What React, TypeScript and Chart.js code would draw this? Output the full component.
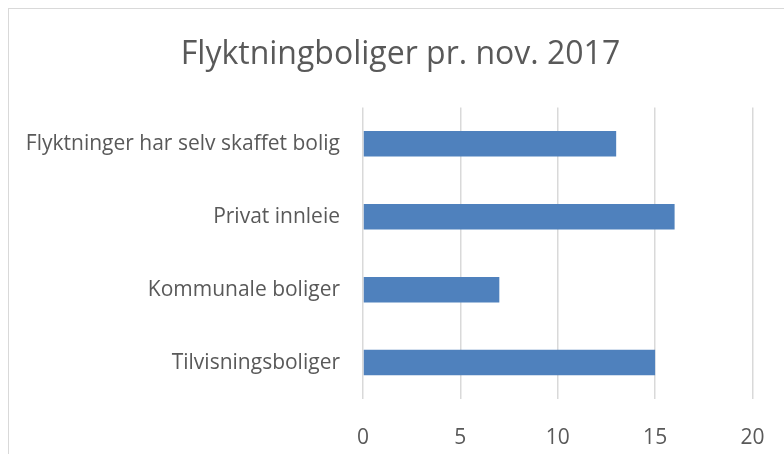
import React, { useEffect, useRef } from "react";
import { Chart, registerables } from "chart.js";

Chart.register(...registerables);

const title = "Flyktningboliger pr. nov. 2017";
const categories = [
  "Flyktninger har selv skaffet bolig",
  "Privat innleie",
  "Kommunale boliger",
  "Tilvisningsboliger",
];
const values = [13, 16, 7, 15];
const xMin = 0;
const xMax = 20;
const xStep = 5;

const FONT = "'Open Sans', 'DejaVu Sans', sans-serif";
const TEXT = "#595959";

export default function App() {
  const ref = useRef<HTMLCanvasElement | null>(null);
  useEffect(() => {
    if (!ref.current) return;
    const chart = new Chart(ref.current, {
      type: "bar",
      data: {
        labels: categories,
        datasets: [
          {
            data: values,
            backgroundColor: "#4F81BD",
            borderWidth: 0,
            categoryPercentage: 1,
            barPercentage: 0.35,
          },
        ],
      },
      options: {
        indexAxis: "y",
        animation: false,
        responsive: false,
        maintainAspectRatio: false,
        layout: { padding: { left: 8, right: 0, top: 0, bottom: 0 } },
        plugins: {
          legend: { display: false },
          tooltip: { enabled: false },
          title: {
            display: true,
            text: title,
            color: TEXT,
            font: { family: FONT, size: 32, weight: "normal" },
            padding: { top: 27, bottom: 33 },
          },
        },
        scales: {
          x: {
            min: xMin,
            max: xMax,
            ticks: {
              stepSize: xStep,
              color: TEXT,
              font: { family: FONT, size: 21 },
              padding: 0,
            },
            grid: {
              color: "#d9d9d9",
              lineWidth: 1.5,
              drawTicks: true,
              tickLength: 26,
              tickColor: "rgba(0,0,0,0)",
            },
            border: { display: false },
            afterFit: (s: any) => {
              s.height = 55;
              s.paddingLeft = 0;
              s.paddingRight = 31.5;
            },
          },
          y: {
            ticks: {
              color: TEXT,
              font: { family: FONT, size: 21 },
              padding: 23,
            },
            grid: { display: false, drawTicks: false },
            border: { display: false },
            afterFit: (s: any) => {
              s.width = 346;
            },
          },
        },
      },
    });
    return () => chart.destroy();
  }, []);
  return (
    <div
      style={{
        position: "absolute",
        left: 8,
        top: 8,
        width: 775,
        height: 445,
        borderTop: "1.5px solid #d9d9d9",
        borderLeft: "1.5px solid #d9d9d9",
        background: "#fff",
        overflow: "hidden",
      }}
    >
      <canvas ref={ref} width={775} height={445} style={{ display: "block" }} />
    </div>
  );
}
